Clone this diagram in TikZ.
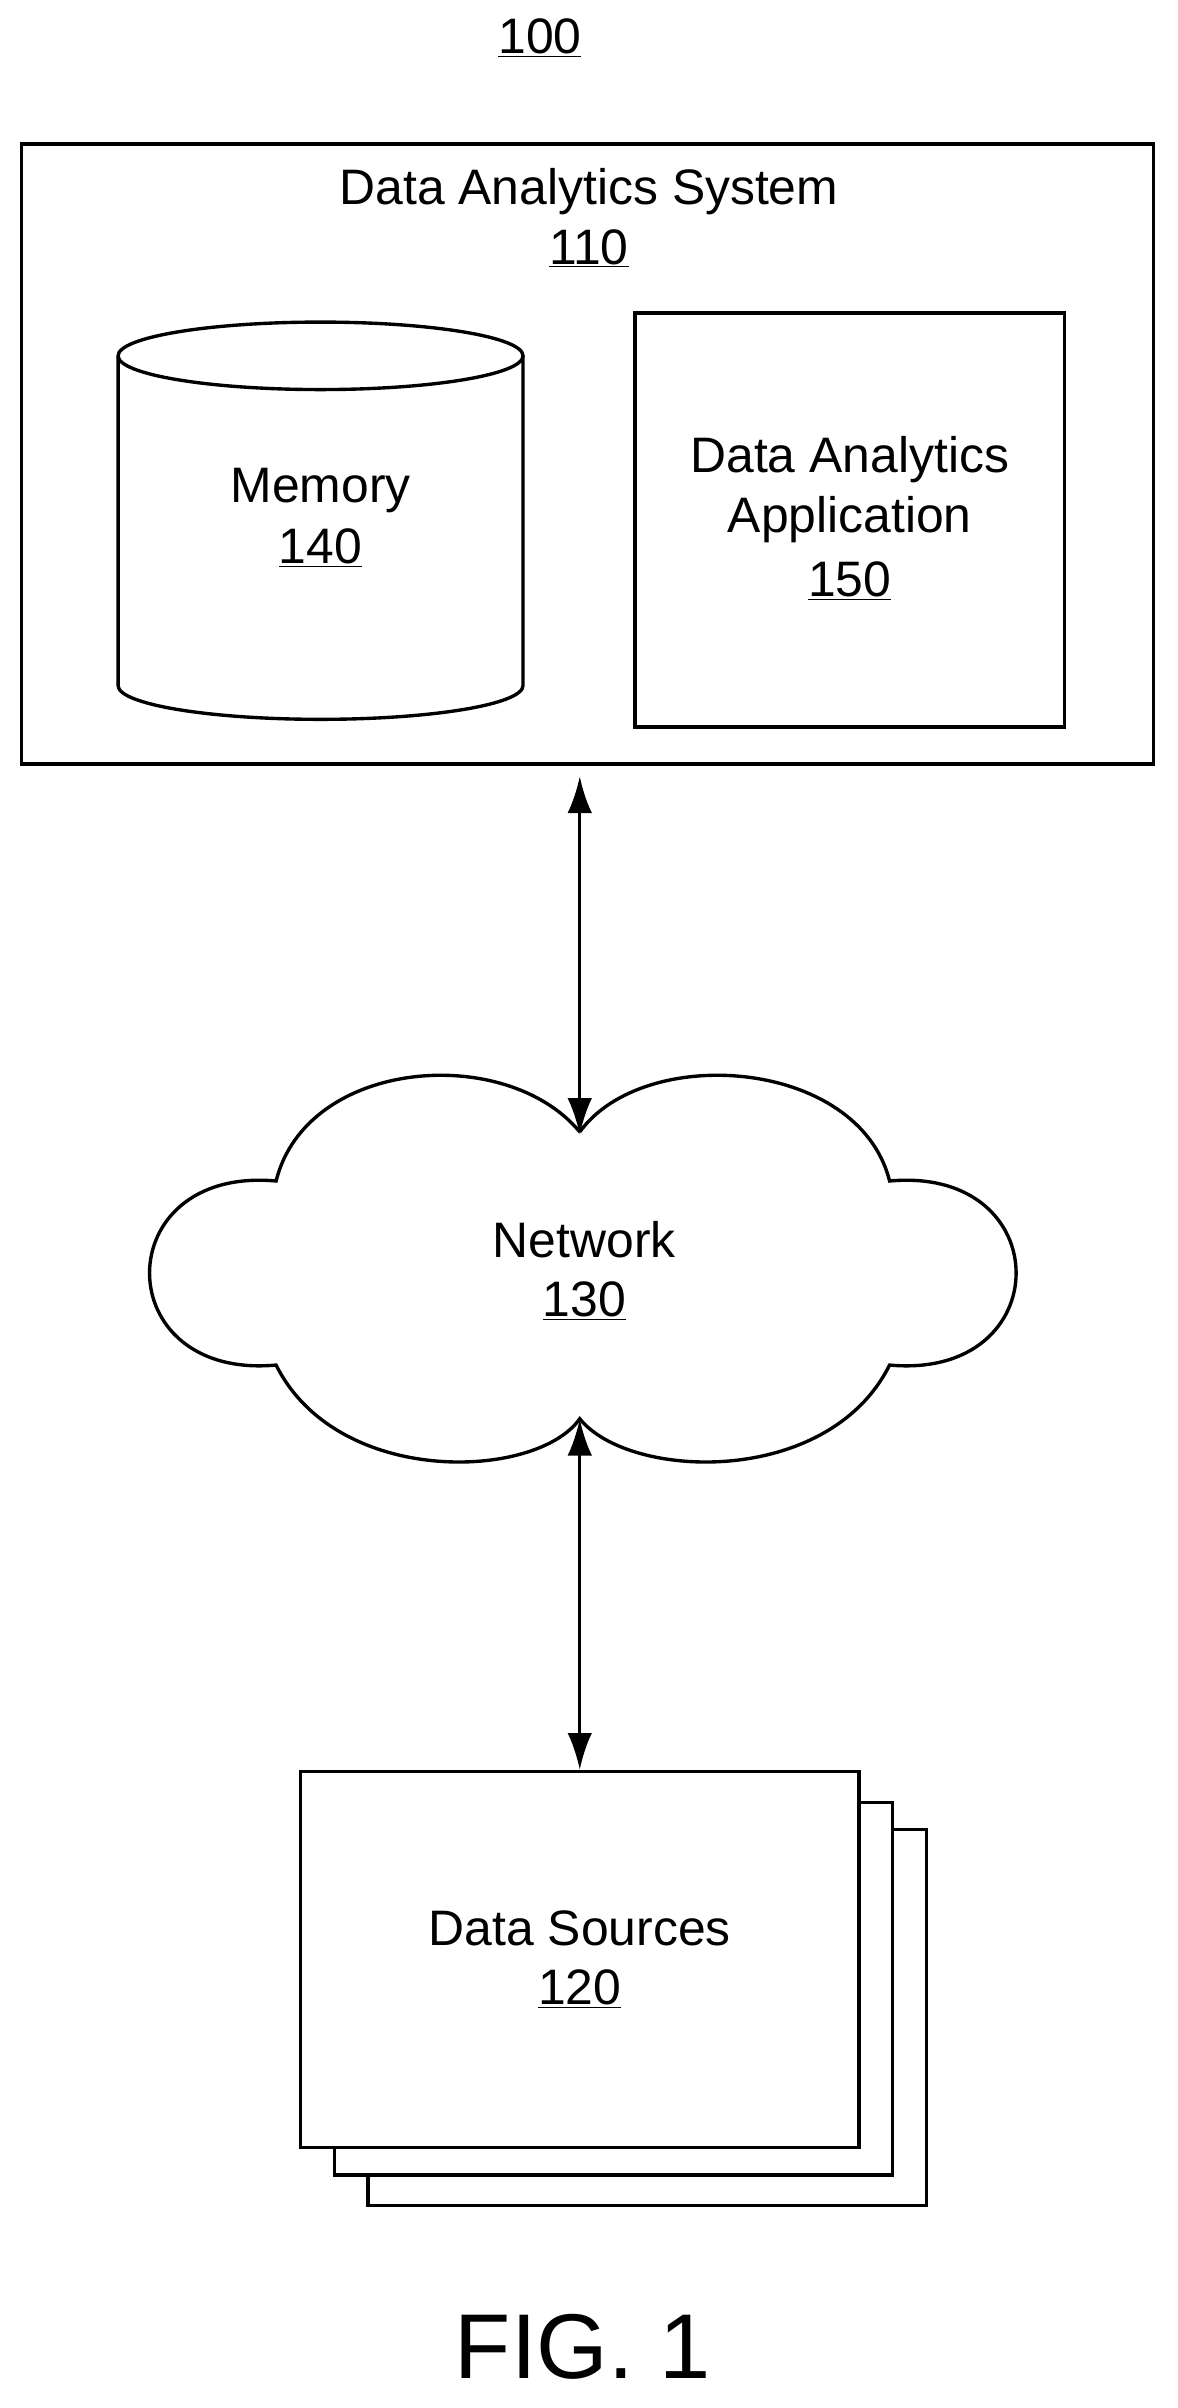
\documentclass[tikz,border=0pt]{standalone}
\usepackage{fontspec}
\setmainfont{Liberation Sans}
\usetikzlibrary{arrows.meta}
\begin{document}
\begin{tikzpicture}[x=1pt,y=-1pt,line width=2.2pt,
  txt/.style={font=\fontsize{32.5}{39}\selectfont,align=center,inner sep=0},
  arr/.style={{Latex[length=24pt,width=16pt]}-{Latex[length=24pt,width=16pt]},line width=2.2pt}]
\useasboundingbox (0,0) rectangle (768,1570);
\node[txt] (n100) at (352,25) {\underline{100}};
\node[draw,minimum width=738,minimum height=404,inner sep=0] (sys) at (383,296) {};
\node[txt] (sysl) at (384,125) {Data Analytics System};
\node[txt] (sysn) at (384,162) {\underline{110}};
% cylinder
\draw[fill=white] (77,232) -- (77,447) arc[start angle=180,end angle=0,x radius=132,y radius=22] -- (341,232);
\draw (209,232) ellipse[x radius=132,y radius=22];
\node[txt] (meml) at (209,320) {Memory};
\node[txt] (memn) at (209,357) {\underline{140}};
\node[draw,minimum width=280,minimum height=270,inner sep=0] (app) at (554,339) {};
\node[txt] (appl) at (554,319) {Data Analytics\\Application};
\node[txt] (appn) at (554,379) {\underline{150}};
% cloud
\draw (378,738) .. controls (330,680) and (200,690) .. (180,770)
  .. controls (70,760) and (70,900) .. (180,890)
  .. controls (220,970) and (350,965) .. (378,925)
  .. controls (410,965) and (540,970) .. (580,890)
  .. controls (690,900) and (690,760) .. (580,770)
  .. controls (560,690) and (420,680) .. (378,738);
\coordinate (cloudtop) at (378,740);
\coordinate (cloudbot) at (378,925);
\node[txt] (netl) at (381,808) {Network};
\node[txt] (netn) at (381,848) {\underline{130}};
% data sources
\draw[fill=white] (240,1193) rectangle (604,1438);
\draw[fill=white] (218,1175) rectangle (582,1418);
\node[draw,fill=white,minimum width=364,minimum height=245,inner sep=0] (ds) at (378,1277.5) {};
\node[txt] (dsl) at (378,1257) {Data Sources};
\node[txt] (dsn) at (378,1297) {\underline{120}};
\draw[arr] (sys.south -| cloudtop) ++(0,7) coordinate (a1) -- (cloudtop);
\draw[arr] (cloudbot) -- (ds.north -| cloudbot);
\node[font=\fontsize{60}{62}\selectfont,inner sep=0] (fig) at (380,1530) {FIG. 1};
\end{tikzpicture}
\end{document}
